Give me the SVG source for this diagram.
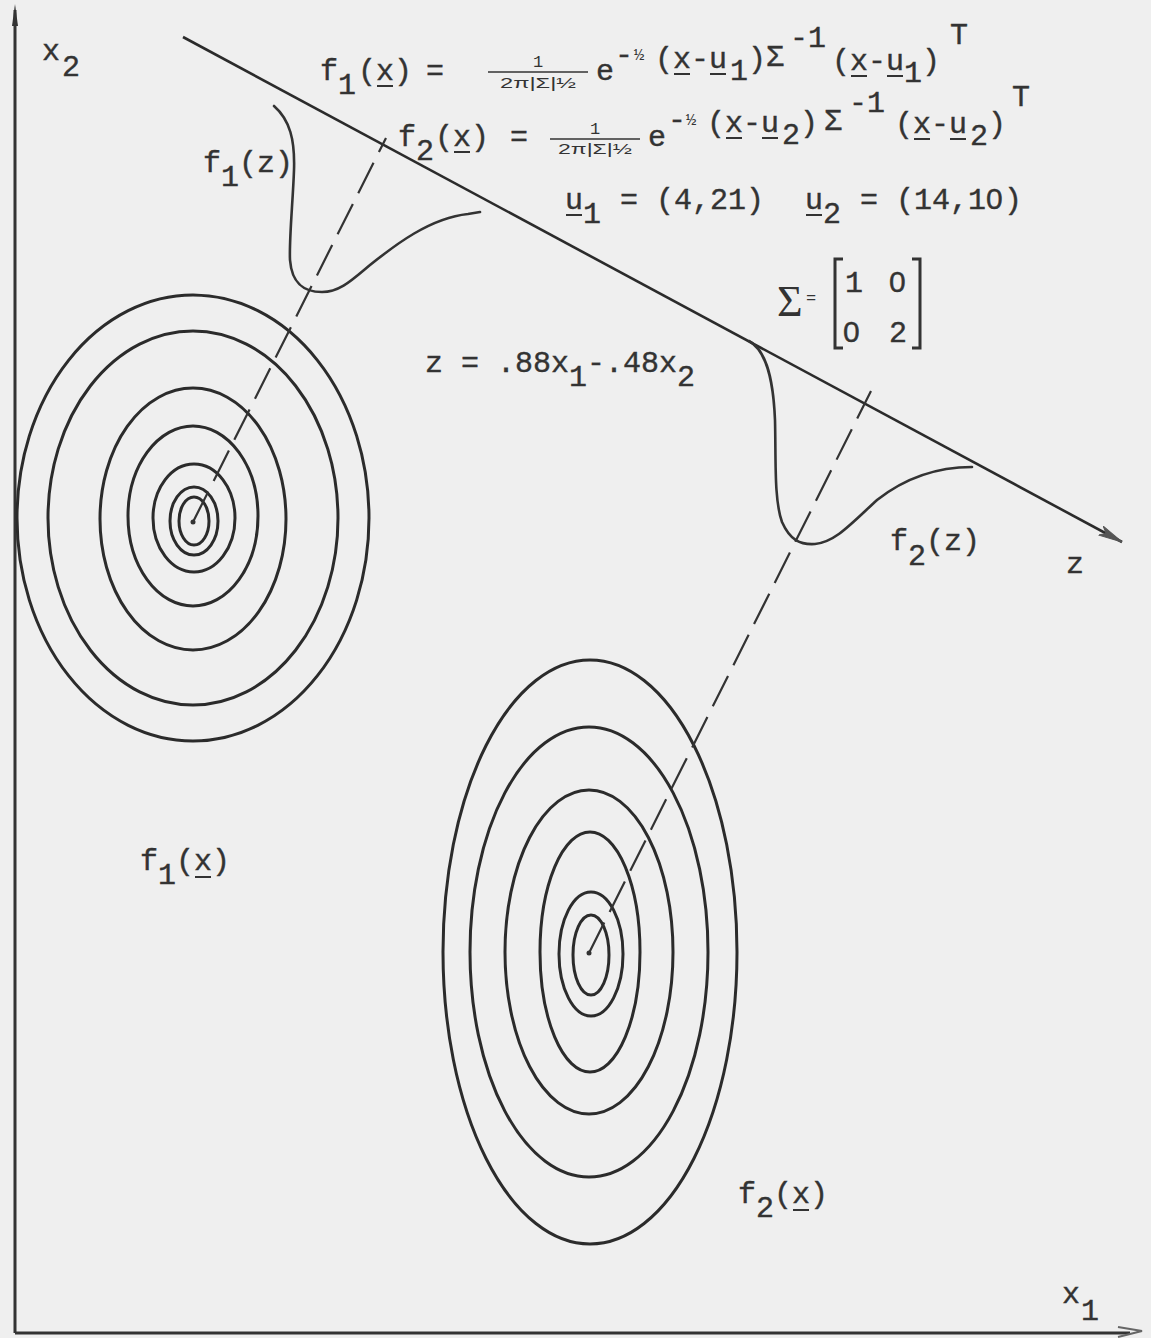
<svg xmlns="http://www.w3.org/2000/svg" width="1151" height="1338" viewBox="0 0 1151 1338">
<defs>
<style>
.t{font-family:"Liberation Mono","Courier New",monospace;font-size:30px;fill:#333;stroke:#333;stroke-width:0.4}
.z{font-family:"Liberation Sans",Arial,sans-serif}
.s{font-family:"Liberation Mono","Courier New",monospace;font-size:17px;fill:#333}
.d{font-family:"Liberation Sans",Arial,sans-serif;font-size:15px;fill:#333}
.ul{stroke:#333;stroke-width:2}
.ell{fill:none;stroke:#2b2b2b;stroke-width:3}
.crv{fill:none;stroke:#333;stroke-width:2.6;stroke-linecap:round}
.dash{fill:none;stroke:#333;stroke-width:2.2;stroke-dasharray:34 12}
.ax{fill:none;stroke:#333;stroke-width:3}
</style>
<marker id="arr" markerWidth="26" markerHeight="14" refX="24" refY="7" orient="auto" markerUnits="userSpaceOnUse">
<path d="M0,2 L24,7 L0,12 L6,7 Z" fill="#555" stroke="#555" stroke-width="1"/>
</marker>
</defs>
<rect width="1151" height="1338" fill="#efefef"/>

<g id="axes">
<line class="ax" x1="15" y1="10" x2="15" y2="1333"/>
<path d="M12,26 L15,4 L18,26 Z" fill="#333"/>
<line class="ax" x1="15" y1="1333" x2="1130" y2="1333"/>
<path d="M1118,1327 L1142,1331 L1118,1337" fill="none" stroke="#666" stroke-width="2"/>
<text class="t" x="42" y="60">x</text><text class="t" x="62" y="76">2</text>
<text class="t" x="1062" y="1303">x</text><text class="t" x="1081" y="1320">1</text>
</g>

<g id="z-axis">
<line x1="183" y1="37" x2="1122" y2="542" stroke="#2b2b2b" stroke-width="2.6" marker-end="url(#arr)"/>
<text class="t" x="1066" y="573">z</text>
</g>

<g id="density-f1">
<ellipse class="ell" cx="193" cy="518" rx="176" ry="223"/>
<ellipse class="ell" cx="193" cy="518" rx="145" ry="187"/>
<ellipse class="ell" cx="193" cy="519" rx="93" ry="131"/>
<ellipse class="ell" cx="193" cy="516" rx="65" ry="90"/>
<ellipse class="ell" cx="194" cy="518" rx="41" ry="54"/>
<ellipse class="ell" cx="194" cy="521" rx="24" ry="34"/>
<ellipse class="ell" cx="194" cy="521" rx="15" ry="24"/>
<circle cx="193" cy="522" r="2.5" fill="#333"/>
<text class="t" x="140" y="870">f</text><text class="t" x="158" y="884">1</text><text class="t" x="176" y="870">(x)</text>
<line class="ul" x1="195" y1="877" x2="211" y2="877"/>
</g>

<g id="density-f2">
<ellipse class="ell" cx="590" cy="952" rx="147" ry="292"/>
<ellipse class="ell" cx="589" cy="952" rx="119" ry="225"/>
<ellipse class="ell" cx="589" cy="952" rx="84" ry="162"/>
<ellipse class="ell" cx="590" cy="952" rx="50" ry="120"/>
<ellipse class="ell" cx="591" cy="954" rx="32" ry="62"/>
<ellipse class="ell" cx="591" cy="955" rx="18" ry="40"/>
<circle cx="589" cy="953" r="2.5" fill="#333"/>
<text class="t" x="738" y="1203">f</text><text class="t" x="756" y="1217">2</text><text class="t" x="774" y="1203">(x)</text>
<line class="ul" x1="793" y1="1210" x2="809" y2="1210"/>
</g>

<g id="connectors">
<line class="dash" x1="193" y1="522" x2="386" y2="138"/>
<line class="dash" x1="589" y1="953" x2="871" y2="391"/>
</g>

<g id="projection-f1z">
<path class="crv" d="M274,106 C290,120 295,140 294,170 C293,200 289,240 290,260 C292,285 305,292 322,292 C340,292 352,280 370,265 C395,245 430,218 468,214 L480,212"/>
<text class="t" x="203" y="172">f</text><text class="t" x="221" y="186">1</text><text class="t" x="239" y="172">(z)</text>
</g>

<g id="projection-f2z">
<path class="crv" d="M749,341 C764,349 773,372 775,420 C776,460 774,500 782,522 C790,540 800,545 815,544 C835,542 850,525 877,500 C905,478 935,467 972,467"/>
<text class="t" x="890" y="550">f</text><text class="t" x="908" y="565">2</text><text class="t" x="926" y="550">(z)</text>
</g>

<g id="formula-f1">
<text class="t" x="320" y="80">f</text><text class="t" x="338" y="94">1</text><text class="t" x="358" y="80">(x)</text>
<line class="ul" x1="377" y1="86" x2="393" y2="86"/>
<text class="t" x="426" y="80">=</text>
<line x1="488" y1="72" x2="588" y2="72" stroke="#333" stroke-width="1.6"/>
<text class="s" x="533" y="67">1</text>
<text class="d" x="500" y="88" textLength="76" lengthAdjust="spacingAndGlyphs">2π|Σ|½</text>
<text class="t" x="596" y="80">e</text>
<text class="t" x="615" y="64">-</text><text class="s" x="634" y="60">½</text>
<text class="t" x="655" y="68">(x-u</text><text class="t" x="730" y="80">1</text><text class="t" x="748" y="68">)</text>
<line class="ul" x1="674" y1="74" x2="690" y2="74"/><line class="ul" x1="710" y1="74" x2="726" y2="74"/>
<text class="t" x="766" y="66">Σ</text><text class="t" x="790" y="47">-1</text>
<text class="t" x="832" y="70">(x-u</text><text class="t" x="904" y="82">1</text><text class="t" x="922" y="70">)</text>
<line class="ul" x1="851" y1="76" x2="867" y2="76"/><line class="ul" x1="887" y1="76" x2="903" y2="76"/>
<text class="t" x="950" y="44">T</text>
</g>

<g id="formula-f2">
<text class="t" x="398" y="146">f</text><text class="t" x="416" y="160">2</text><text class="t" x="435" y="146">(x)</text>
<line class="ul" x1="454" y1="152" x2="470" y2="152"/>
<text class="t" x="510" y="146">=</text>
<line x1="550" y1="139" x2="640" y2="139" stroke="#333" stroke-width="1.6"/>
<text class="s" x="590" y="134">1</text>
<text class="d" x="558" y="154" textLength="74" lengthAdjust="spacingAndGlyphs">2π|Σ|½</text>
<text class="t" x="648" y="146">e</text>
<text class="t" x="668" y="129">-</text><text class="s" x="686" y="125">½</text>
<text class="t" x="707" y="132">(x-u</text><text class="t" x="782" y="144">2</text><text class="t" x="800" y="132">)</text>
<line class="ul" x1="726" y1="138" x2="742" y2="138"/><line class="ul" x1="762" y1="138" x2="778" y2="138"/>
<text class="t" x="824" y="130">Σ</text><text class="t" x="849" y="112">-1</text>
<text class="t" x="895" y="133">(x-u</text><text class="t" x="970" y="145">2</text><text class="t" x="988" y="133">)</text>
<line class="ul" x1="914" y1="139" x2="930" y2="139"/><line class="ul" x1="950" y1="139" x2="966" y2="139"/>
<text class="t" x="1012" y="106">T</text>
</g>

<g id="means">
<text class="t" x="565" y="209">u</text><text class="t" x="583" y="223">1</text><text class="t" x="620" y="209">= (4,21)</text>
<line class="ul" x1="566" y1="215" x2="582" y2="215"/>
<text class="t" x="805" y="209">u</text><text class="t" x="823" y="223">2</text>
<text class="t" x="860 878 896 914 932 950 968 986 1004" y="209">= (14,1<tspan class="z">0</tspan>)</text>
<line class="ul" x1="806" y1="215" x2="822" y2="215"/>
</g>

<g id="covariance">
<text x="777" y="316" font-family="Liberation Serif,serif" font-size="44" fill="#333">Σ</text>
<text class="s" x="806" y="303">=</text>
<path d="M843,259 L835,259 L835,348 L843,348" class="ax" stroke-width="2.4"/>
<path d="M912,259 L920,259 L920,348 L912,348" class="ax" stroke-width="2.4"/>
<text class="t" x="845" y="292">1</text><text class="t z" x="889" y="292">0</text>
<text class="t z" x="843" y="342">0</text><text class="t" x="889" y="342">2</text>
</g>

<g id="projection-eq">
<text class="t" x="425" y="372">z = .88x</text><text class="t" x="569" y="386">1</text>
<text class="t" x="587" y="372">-.48x</text><text class="t" x="677" y="386">2</text>
</g>
</svg>
